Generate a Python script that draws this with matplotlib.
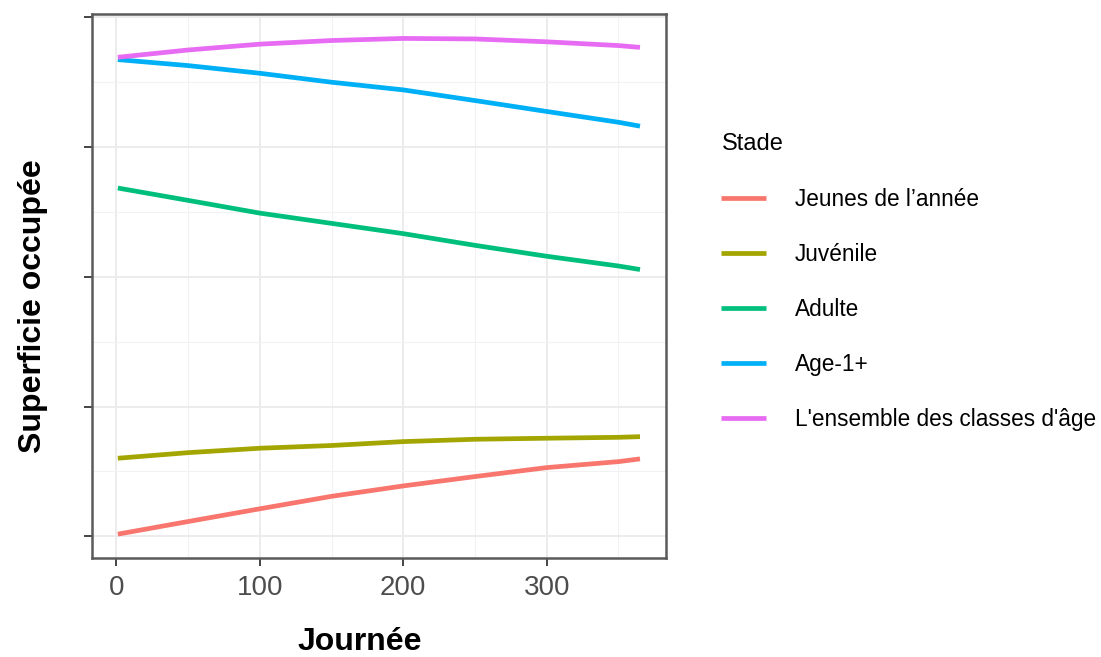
import numpy as np
import matplotlib.pyplot as plt
from matplotlib.ticker import MultipleLocator, NullFormatter

plt.rcParams['font.family'] = ['Liberation Sans', 'DejaVu Sans']

# jours de l'année
days = [1, 50, 100, 150, 200, 250, 300, 350, 365]

# superficie occupée par stade (unités relatives)
jeunes = [0.018, 0.115, 0.213, 0.309, 0.389, 0.461, 0.530, 0.576, 0.597]
juvenile = [0.602, 0.645, 0.679, 0.700, 0.730, 0.748, 0.756, 0.763, 0.768]
adulte = [2.681, 2.586, 2.488, 2.409, 2.330, 2.240, 2.156, 2.081, 2.054]
age1 = [3.669, 3.623, 3.564, 3.495, 3.436, 3.354, 3.270, 3.187, 3.157]
ensemble = [3.687, 3.743, 3.788, 3.816, 3.832, 3.828, 3.806, 3.777, 3.763]

labels = ["Jeunes de l\u2019année", "Juvénile", "Adulte", "Age-1+",
          "L'ensemble des classes d'âge"]
colors = ['#F8766D', '#A3A500', '#00BF7D', '#00B0F6', '#E76BF3']
series = [jeunes, juvenile, adulte, age1, ensemble]

fig = plt.figure(figsize=(11.01, 6.57), dpi=100)
ax = fig.add_axes([0.0833, 0.1502, 0.5217, 0.8285])

for vals, lab, col in zip(series, labels, colors):
    ax.plot(days, vals, color=col, lw=3.4, label=lab, solid_capstyle='butt')

ax.set_xlim(-17.2, 383.2)
ax.set_ylim(-0.168, 4.02)

ax.xaxis.set_major_locator(MultipleLocator(100))
ax.xaxis.set_minor_locator(MultipleLocator(50))
ax.yaxis.set_major_locator(MultipleLocator(1))
ax.yaxis.set_minor_locator(MultipleLocator(0.5))
ax.yaxis.set_major_formatter(NullFormatter())

ax.grid(which='major', color='#EBEBEB', lw=1.3, zorder=0)
ax.grid(which='minor', color='#F2F2F2', lw=0.8, zorder=0)
ax.set_axisbelow(True)

for sp in ax.spines.values():
    sp.set_color('#5A5A5A')
    sp.set_linewidth(1.8)

ax.tick_params(which='major', length=6, width=1.4, color='#444444',
               labelsize=20, labelcolor='#4D4D4D', pad=6)
ax.tick_params(which='minor', length=0)

ax.set_xlabel("Journée", fontsize=23, fontweight='bold', color='black')
ax.xaxis.set_label_coords(0.466, -0.154)
ax.xaxis.label.set_verticalalignment('center')

ax.set_ylabel("Superficie occupée", fontsize=23, fontweight='bold', color='black')
ax.yaxis.set_label_coords(-0.102, 0.463)
ax.yaxis.label.set_verticalalignment('center')

leg = fig.legend(loc='upper left', bbox_to_anchor=(721 / 1101, 1 - 133 / 657),
                 bbox_transform=fig.transFigure, frameon=False, title="Stade",
                 fontsize=16.3, title_fontsize=17, alignment='left',
                 handlelength=1.95, handletextpad=1.3, labelspacing=1.42,
                 borderpad=0.02, borderaxespad=0)
for ln in leg.get_lines():
    ln.set_linewidth(3.4)

fig.savefig('out.png', dpi=100)
